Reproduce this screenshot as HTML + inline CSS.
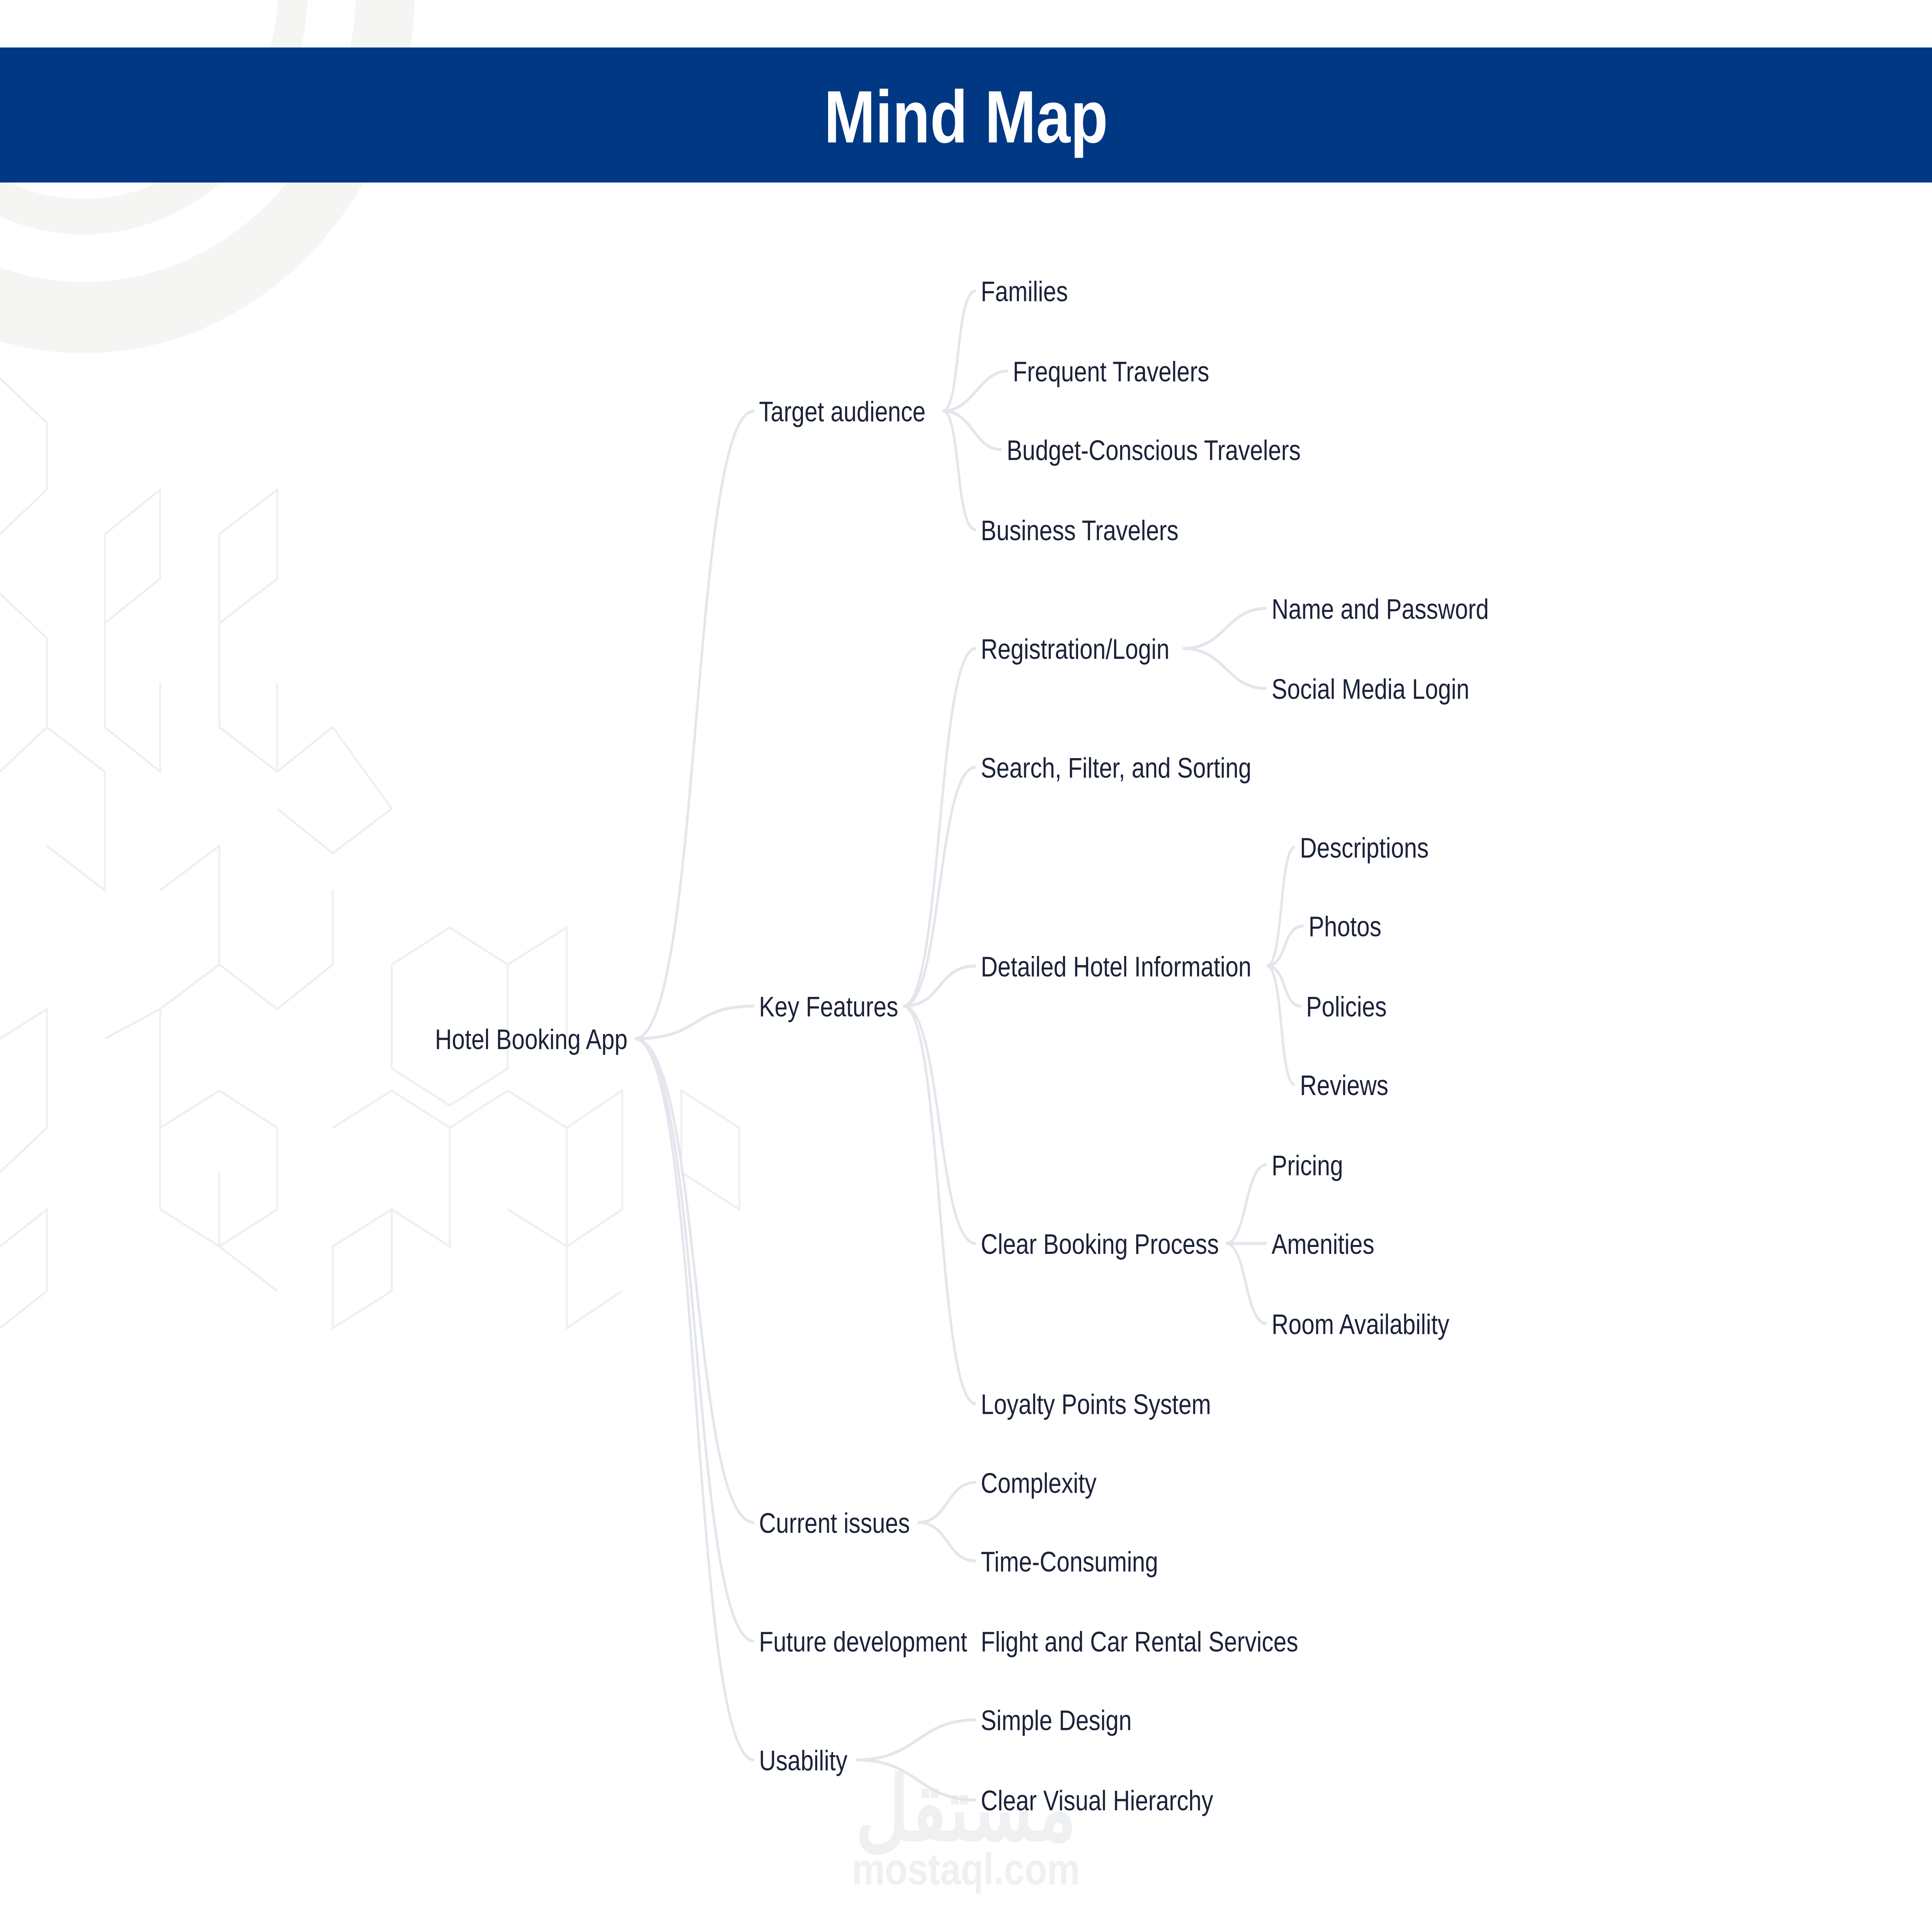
<!DOCTYPE html>
<html><head><meta charset="utf-8"><style>
html,body{margin:0;padding:0;background:#fff;width:100%;height:100%;overflow:hidden;}
svg{display:block;width:100vw;height:100vh;}
text{font-family:"Liberation Sans",sans-serif;}
</style></head><body>
<svg viewBox="0 0 1568 1302" preserveAspectRatio="none" xmlns="http://www.w3.org/2000/svg">
<rect width="1568" height="1302" fill="#fff"/>
<ellipse cx="68" cy="-10" rx="245" ry="224" fill="none" stroke="#f5f5f3" stroke-width="48"/>
<ellipse cx="68" cy="-10" rx="170" ry="156" fill="none" stroke="#f5f5f3" stroke-width="24"/>
<g fill="none" stroke="#efefef" stroke-width="1.5">
<path d="M0 255 L38 285 L38 330 L0 360"/>
<path d="M0 400 L38 430 L38 490 L0 520"/>
<path d="M85 360 L130 330 L130 390 L85 420 Z"/>
<path d="M178 360 L225 330 L225 390 L178 420 Z"/>
<path d="M85 420 L85 490 L130 520 L130 460"/>
<path d="M178 420 L178 490 L225 520 L225 460"/>
<path d="M225 520 L270 490 L318 545 L270 575 L225 545"/>
<path d="M38 490 L85 520 L85 600 L38 570"/>
<path d="M130 600 L178 570 L178 650 L130 680"/>
<path d="M178 650 L225 680 L270 650 L270 600"/>
<path d="M318 650 L365 625 L412 650 L412 720 L365 745 L318 720 Z"/>
<path d="M412 650 L460 625 L460 700"/>
<path d="M130 760 L178 735 L225 760 L225 815 L178 840 L130 815 Z"/>
<path d="M85 700 L130 680 L130 760"/>
<path d="M0 700 L38 680 L38 760 L0 790"/>
<path d="M270 760 L318 735 L365 760 L365 840 L318 815 L270 840"/>
<path d="M365 760 L412 735 L460 760 L460 840 L412 815"/>
<path d="M460 760 L505 735 L505 815 L460 840"/>
<path d="M553 735 L600 760 L600 815 L553 790 Z"/>
<path d="M178 790 L178 840 L225 870"/>
<path d="M270 840 L270 895 L318 870 L318 815"/>
<path d="M460 840 L460 895 L505 870"/>
<path d="M0 840 L38 815 L38 870 L0 895"/>
</g>
<rect x="0" y="32" width="1568" height="91" fill="#003883"/>
<text x="784" y="96" text-anchor="middle" font-size="50" font-weight="bold" fill="#fff">Mind Map</text>
<text x="784" y="1240" text-anchor="middle" font-size="60" font-weight="bold" fill="#eef0f2" font-family="'DejaVu Sans',sans-serif">مستقل</text>
<text x="784" y="1270" text-anchor="middle" font-size="30" font-weight="bold" fill="#eef0f2">mostaql.com</text>
<g fill="none" stroke="#e3e6ec" stroke-width="2">
<path d="M515 700 C570 700 560 277 612 277"/>
<path d="M515 700 C570 700 560 678 612 678"/>
<path d="M515 700 C570 700 560 1026 612 1026"/>
<path d="M515 700 C570 700 560 1106 612 1106"/>
<path d="M515 700 C570 700 560 1186 612 1186"/>
<path d="M765 277 C780 277 775 196 792 196"/>
<path d="M765 277 C790 277 795 250 818 250"/>
<path d="M765 277 C790 277 790 303 813 303"/>
<path d="M765 277 C780 277 775 357 792 357"/>
<path d="M733 678 C765 678 760 437 792 437"/>
<path d="M733 678 C765 678 760 517 792 517"/>
<path d="M733 678 C765 678 760 651 792 651"/>
<path d="M733 678 C765 678 760 838 792 838"/>
<path d="M733 678 C765 678 760 946 792 946"/>
<path d="M960 437 C995 437 995 410 1028 410"/>
<path d="M960 437 C995 437 995 464 1028 464"/>
<path d="M1028 651 C1042 651 1038 571 1051 571"/>
<path d="M1028 651 C1045 651 1040 624 1058 624"/>
<path d="M1028 651 C1045 651 1040 678 1056 678"/>
<path d="M1028 651 C1042 651 1038 731 1051 731"/>
<path d="M995 838 C1012 838 1010 785 1028 785"/>
<path d="M995 838 L1028 838"/>
<path d="M995 838 C1012 838 1010 892 1028 892"/>
<path d="M745 1026 C770 1026 768 999 792 999"/>
<path d="M745 1026 C770 1026 768 1052 792 1052"/>
<path d="M695 1186 C745 1186 745 1159 792 1159"/>
<path d="M695 1186 C745 1186 745 1213 792 1213"/>
</g>
<g font-size="19" fill="#1b2238">
<text x="353" y="707">Hotel Booking App</text>
<text x="616" y="284">Target audience</text>
<text x="616" y="685">Key Features</text>
<text x="616" y="1033">Current issues</text>
<text x="616" y="1113">Future development</text>
<text x="616" y="1193">Usability</text>
<text x="796" y="203">Families</text>
<text x="822" y="257">Frequent Travelers</text>
<text x="817" y="310">Budget-Conscious Travelers</text>
<text x="796" y="364">Business Travelers</text>
<text x="796" y="444">Registration/Login</text>
<text x="796" y="524">Search, Filter, and Sorting</text>
<text x="796" y="658">Detailed Hotel Information</text>
<text x="796" y="845">Clear Booking Process</text>
<text x="796" y="953">Loyalty Points System</text>
<text x="1032" y="417">Name and Password</text>
<text x="1032" y="471">Social Media Login</text>
<text x="1055" y="578">Descriptions</text>
<text x="1062" y="631">Photos</text>
<text x="1060" y="685">Policies</text>
<text x="1055" y="738">Reviews</text>
<text x="1032" y="792">Pricing</text>
<text x="1032" y="845">Amenities</text>
<text x="1032" y="899">Room Availability</text>
<text x="796" y="1006">Complexity</text>
<text x="796" y="1059">Time-Consuming</text>
<text x="796" y="1113">Flight and Car Rental Services</text>
<text x="796" y="1166">Simple Design</text>
<text x="796" y="1220">Clear Visual Hierarchy</text>
</g>
</svg>
</body></html>
